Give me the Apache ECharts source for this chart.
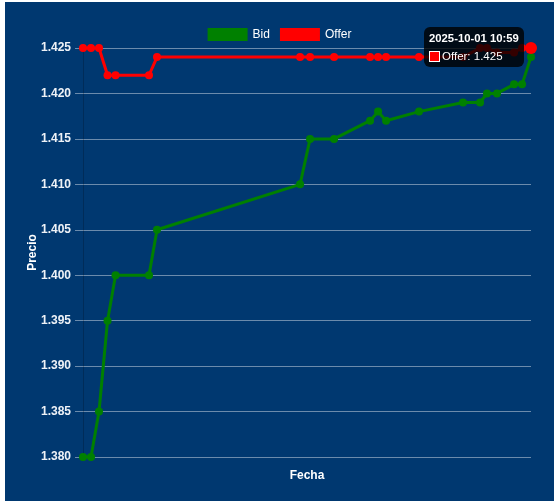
<!DOCTYPE html>
<html>
<head>
<meta charset="utf-8">
<script src="https://cdn.jsdelivr.net/npm/echarts@6/dist/echarts.min.js"></script>
<style>
  html, body { margin: 0; padding: 0; background: #ffffff; }
  #chart { position: absolute; left: 5px; top: 2px; width: 549px; height: 499px; }
</style>
</head>
<body>
<div id="chart"></div>
<script>
// ---- data ----
const times = [
  "2025-10-01 10:03:00", "2025-10-01 10:04:00", "2025-10-01 10:05:00", "2025-10-01 10:06:04",
  "2025-10-01 10:07:04", "2025-10-01 10:11:15", "2025-10-01 10:12:15", "2025-10-01 10:30:08",
  "2025-10-01 10:31:23", "2025-10-01 10:34:23", "2025-10-01 10:38:53", "2025-10-01 10:39:53",
  "2025-10-01 10:40:53", "2025-10-01 10:45:00", "2025-10-01 10:50:30", "2025-10-01 10:52:38",
  "2025-10-01 10:53:30", "2025-10-01 10:54:45", "2025-10-01 10:56:53", "2025-10-01 10:57:53",
  "2025-10-01 10:59:00"
];
const bid = [1.380, 1.380, 1.385, 1.395, 1.400, 1.400, 1.405, 1.410, 1.415, 1.415, 1.417,
             1.418, 1.417, 1.418, 1.419, 1.419, 1.420, 1.420, 1.421, 1.421, 1.424];
const offer = [1.425, 1.425, 1.425, 1.422, 1.422, 1.422, 1.424, 1.424, 1.424, 1.424, 1.424,
               1.424, 1.424, 1.424, 1.424, 1.425, 1.425, 1.4245, 1.4245, 1.425, 1.425];
const yTicks = { min: 1.380, max: 1.425, interval: 0.005 };
const seriesNames = ["Bid", "Offer"];
const axisNames = { x: "Fecha", y: "Precio" };

function parseT(s) { return new Date(s.replace(" ", "T")).getTime(); }
const tVals = times.map(parseT);
const bidData = tVals.map((t, i) => [t, bid[i]]);
const offerData = tVals.map((t, i) => [t, offer[i]]);

const font = "Liberation Sans, Arial, Helvetica, sans-serif";
const gridCol = "rgba(255,255,255,0.42)";

const chart = echarts.init(document.getElementById("chart"), null, { renderer: "canvas" });
chart.setOption({
  animation: false,
  backgroundColor: "#003870",
  textStyle: { fontFamily: font },
  legend: {
    top: 21,
    left: "center",
    itemWidth: 40,
    itemHeight: 13,
    itemGap: 10,
    icon: "rect",
    textStyle: { color: "#ffffff", fontSize: 12, fontFamily: font },
    data: seriesNames
  },
  grid: { left: 78, right: 23, top: 46, bottom: 44 },
  tooltip: {
    trigger: "item",
    alwaysShowContent: true,
    position: [419, 25],
    backgroundColor: "rgba(0,0,0,0.8)",
    borderWidth: 0,
    borderRadius: 6,
    padding: [4, 5],
    extraCssText: "box-shadow:none;",
    formatter: function (p) {
      const d = new Date(p.value[0]);
      const pad = n => String(n).padStart(2, "0");
      const title = d.getFullYear() + "-" + pad(d.getMonth() + 1) + "-" + pad(d.getDate()) + " " + pad(d.getHours()) + ":" + pad(d.getMinutes());
      return '<div style="font:bold 11.3px ' + font + ';color:#fff;line-height:15px;margin-bottom:4px;">' + title + '</div>' +
             '<div style="font:11.5px ' + font + ';color:#fff;line-height:13px;display:flex;align-items:center;">' +
             '<span style="display:inline-block;width:9px;height:9px;background:' + p.color + ';border:1px solid #fff;margin-right:2px;"></span>' +
             p.seriesName + ': ' + p.value[1] + '</div>';
    }
  },
  xAxis: {
    type: "time",
    min: tVals[0],
    max: tVals[tVals.length - 1],
    name: axisNames.x,
    nameLocation: "middle",
    nameGap: 13,
    nameTextStyle: { color: "#ffffff", fontSize: 12, fontWeight: "bold", fontFamily: font },
    axisLine: { show: false },
    axisTick: { show: false },
    axisLabel: { show: false },
    splitLine: { show: false }
  },
  yAxis: {
    type: "value",
    min: yTicks.min,
    max: yTicks.max,
    interval: yTicks.interval,
    name: axisNames.y,
    nameLocation: "middle",
    nameGap: 44,
    nameMoveOverlap: false,
    nameRotate: 90,
    nameTextStyle: { color: "#ffffff", fontSize: 12, fontWeight: "bold", fontFamily: font },
    axisLine: { show: true, lineStyle: { color: "rgba(0,0,0,0.2)", width: 1 } },
    axisTick: { show: true, length: 8, lineStyle: { color: gridCol } },
    axisLabel: {
      color: "#eef2f7", fontSize: 12, fontWeight: "bold", fontFamily: font, margin: 12,
      formatter: v => v.toFixed(3)
    },
    splitLine: { show: true, lineStyle: { color: gridCol, width: 1 } }
  },
  series: [
    {
      name: seriesNames[0],
      type: "line",
      data: bidData,
      color: "#008000",
      lineStyle: { width: 3, color: "#008000" },
      itemStyle: { color: "#008000" },
      symbol: "circle",
      symbolSize: 8,
      showAllSymbol: true,
      emphasis: { scale: 1.5 },
      z: 2
    },
    {
      name: seriesNames[1],
      type: "line",
      data: offerData,
      color: "#ff0000",
      lineStyle: { width: 3, color: "#ff0000" },
      itemStyle: { color: "#ff0000" },
      symbol: "circle",
      symbolSize: 8,
      showAllSymbol: true,
      emphasis: { scale: 1.5, focus: "none" },
      z: 3
    }
  ]
});
chart.dispatchAction({ type: "showTip", seriesIndex: 1, dataIndex: offer.length - 1 });
chart.dispatchAction({ type: "highlight", seriesIndex: 1, dataIndex: offer.length - 1 });
</script>
</body>
</html>
